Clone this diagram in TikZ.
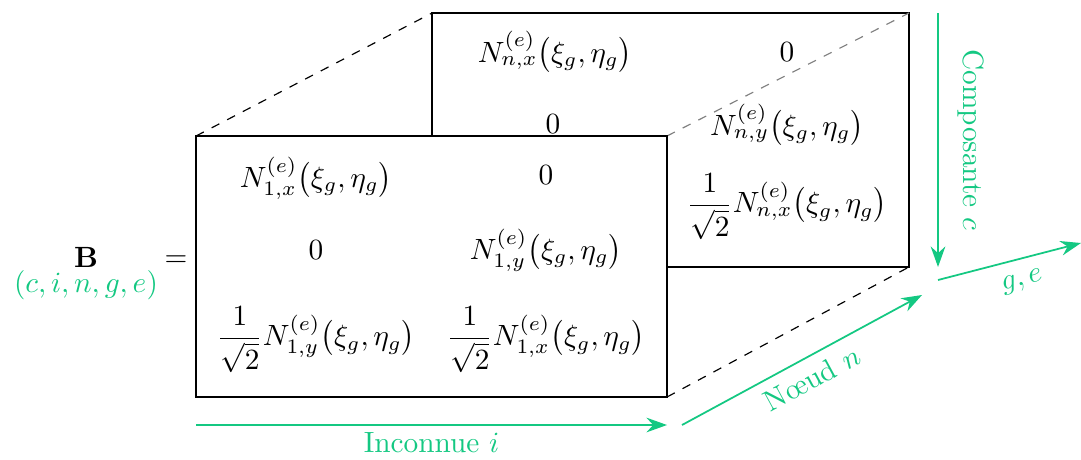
\documentclass[tikz,border=0pt]{standalone}
\usepackage{amsmath}
\usetikzlibrary{arrows.meta}
\definecolor{vert}{RGB}{20,200,130}
\tikzset{
  fleche/.style={semithick, vert, -{Stealth[length=7pt,width=5pt]}},
  lbl/.style={text=vert, font=\normalsize},
  entree/.style={inner sep=1pt, font=\normalsize},
}
\newcommand{\Nfun}[2]{$N^{(e)}_{#1,#2}\bigl(\xi_g,\eta_g\bigr)$}
\newcommand{\Nfrac}[2]{$\dfrac{1}{\sqrt{2}}N^{(e)}_{#1,#2}\bigl(\xi_g,\eta_g\bigr)$}
\begin{document}
\begin{tikzpicture}[x=0.012cm, y=-0.012cm]
\useasboundingbox (0,0) rectangle (1081,459);

% Coins des deux matrices
\coordinate (fa) at (196,136);
\coordinate (fb) at (667,397);
\coordinate (ba) at (432,13);
\coordinate (bb) at (909,267);
\coordinate (fne) at (667,136);
\coordinate (bne) at (909,13);

% Matrice arriere (noeud n)
\draw[thin, fill=white] (ba) rectangle (bb);
\node[entree] (b11) at (555,52) {\Nfun{n}{x}};
\node[entree] (b12) at (787,52) {$0$};
\node[entree] (b21) at (553,124) {$0$};
\node[entree] (b22) at (787,125) {\Nfun{n}{y}};
\node[entree] (b32) at (787,207) {\Nfrac{n}{x}};

% Aretes en perspective
\draw[thin, dashed] (fa) -- (ba);
\draw[thin, dashed, gray] (fne) -- (bne);
\draw[thin, dashed] (fb) -- (bb);

% Matrice avant (noeud 1)
\draw[thin, fill=white] (fa) rectangle (fb);
\node[entree] (f11) at (316,178) {\Nfun{1}{x}};
\node[entree] (f12) at (546,175) {$0$};
\node[entree] (f21) at (316,250) {$0$};
\node[entree] (f22) at (546,250) {\Nfun{1}{y}};
\node[entree] (f31) at (316,340) {\Nfrac{1}{y}};
\node[entree] (f32) at (546,340) {\Nfrac{1}{x}};

% Membre de gauche
\node (bmat) at (86,257) {$\mathbf{B}$};
\node[lbl] (indices) at (86,285) {$(c,i,n,g,e)$};
\node (egal) at (176,261) {$=$};

% Axes
\coordinate (i0) at (196,425);
\coordinate (i1) at (667,425);
\coordinate (n0) at (682,425);
\coordinate (n1) at (922,295);
\coordinate (c0) at (938,13);
\coordinate (c1) at (938,267);
\coordinate (g0) at (938,280);
\coordinate (g1) at (1081,243);

\draw[fleche] (i0) -- node[lbl, below=-1pt] (linc) {Inconnue $i$} (i1);
\draw[fleche] (n0) -- node[lbl, below, sloped, pos=0.5] (lnoe) {N\oe ud $n$} (n1);
\draw[fleche] (c0) -- node[lbl, above=3pt, sloped] (lcomp) {Composante $c$} (c1);
\draw[fleche] (g0) -- node[lbl, below=1pt, sloped, pos=0.55] (lge) {$g,e$} (g1);

\end{tikzpicture}
\end{document}
